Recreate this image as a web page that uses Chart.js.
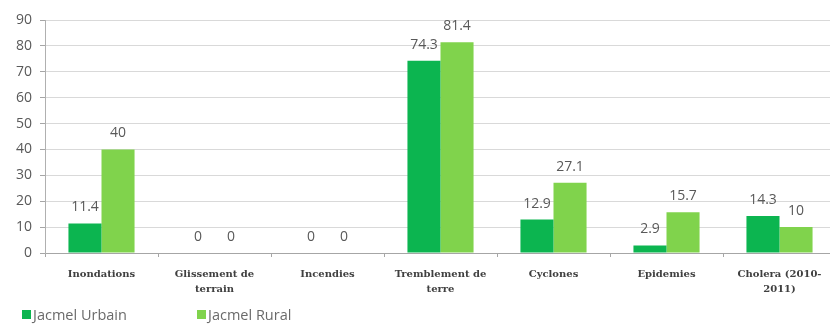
<!DOCTYPE html>
<html>
<head>
<meta charset="utf-8">
<script src="https://cdn.jsdelivr.net/npm/chart.js@4.4.1/dist/chart.umd.min.js"></script>
<style>
  body { margin: 0; background: #fff; }
  .wrap { position: relative; width: 830px; height: 324px; overflow: hidden; }
  .legend { position: absolute; top: 305px; left: 22px; font: 14.5px "Open Sans", sans-serif; color: #6a6a6a; }
  .legend span { position: absolute; white-space: nowrap; display: flex; align-items: center; }
  .legend i { display: inline-block; width: 9px; height: 9px; margin-right: 2px; }
</style>
</head>
<body>
<div class="wrap">
  <canvas id="chart" width="850" height="324"></canvas>
  <div class="legend" id="legend"></div>
</div>
<script>
const categories = [
  'Inondations',
  ['Glissement de', 'terrain'],
  'Incendies',
  ['Tremblement de', 'terre'],
  'Cyclones',
  'Epidemies',
  ['Cholera (2010-', '2011)']
];
const seriesNames = ['Jacmel Urbain', 'Jacmel Rural'];
const urbain = [11.4, 0, 0, 74.3, 12.9, 2.9, 14.3];
const rural = [40, 0, 0, 81.4, 27.1, 15.7, 10];
const colors = ['#0cb550', '#80d34c'];
const yTicks = [0, 10, 20, 30, 40, 50, 60, 70, 80, 90];

// value labels above each bar
const valueLabels = {
  id: 'valueLabels',
  afterDatasetsDraw(chart) {
    const ctx = chart.ctx;
    ctx.save();
    ctx.font = '14px "Open Sans", sans-serif';
    ctx.fillStyle = '#595959';
    ctx.textAlign = 'center';
    ctx.textBaseline = 'bottom';
    chart.data.datasets.forEach((ds, i) => {
      chart.getDatasetMeta(i).data.forEach((bar, j) => {
        ctx.fillText(String(ds.data[j]), bar.x, bar.y - 9);
      });
    });
    ctx.restore();
  }
};

new Chart(document.getElementById('chart'), {
  type: 'bar',
  data: {
    labels: categories,
    datasets: [
      { label: seriesNames[0], data: urbain, backgroundColor: colors[0] },
      { label: seriesNames[1], data: rural, backgroundColor: colors[1] }
    ]
  },
  options: {
    responsive: false,
    animation: false,
    devicePixelRatio: 1,
    layout: { padding: { top: 20, right: 14, left: 0, bottom: 0 } },
    datasets: { bar: { barPercentage: 1, categoryPercentage: 0.585 } },
    plugins: { legend: { display: false }, tooltip: { enabled: false } },
    scales: {
      x: {
        afterFit(scale) { scale.height = 71; },
        grid: { offset: true, drawOnChartArea: false, color: '#a6a6a6', tickLength: 4 },
        border: { color: '#a6a6a6' },
        ticks: {
          maxRotation: 0,
          autoSkip: false,
          padding: 10,
          color: '#404040',
          font: { family: '"DejaVu Serif", serif', size: 10, weight: 'bold', lineHeight: 1.5 }
        }
      },
      y: {
        min: 0,
        max: 90,
        afterFit(scale) { scale.width = 45; },
        afterBuildTicks(scale) { scale.ticks = yTicks.map(v => ({ value: v })); },
        grid: { color: '#d9d9d9', tickLength: 5, tickColor: '#a6a6a6' },
        border: { color: '#b0b0b0' },
        ticks: {
          padding: 8,
          color: '#595959',
          font: { family: '"Open Sans", sans-serif', size: 14 }
        }
      }
    }
  },
  plugins: [valueLabels]
});

const legend = document.getElementById('legend');
const legendX = [0, 175];
seriesNames.forEach((name, i) => {
  const s = document.createElement('span');
  s.style.left = legendX[i] + 'px';
  s.innerHTML = '<i style="background:' + colors[i] + '"></i>' + name;
  legend.appendChild(s);
});
</script>
</body>
</html>
